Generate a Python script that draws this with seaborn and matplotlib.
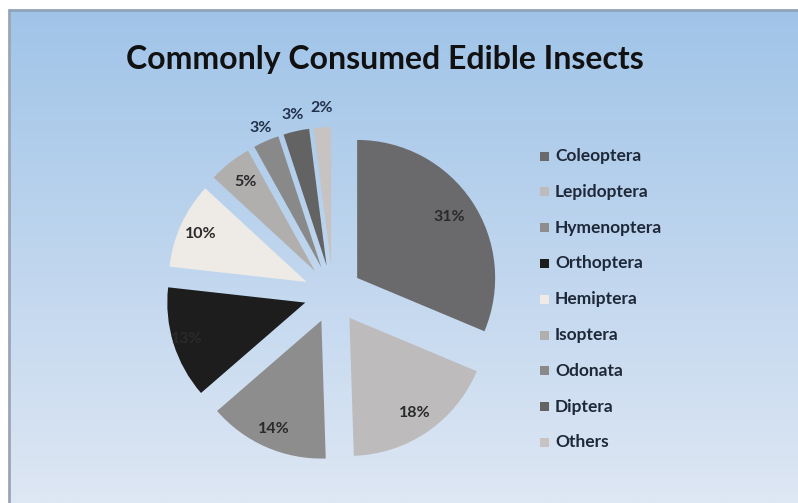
import numpy as np
import matplotlib
matplotlib.use("Agg")
import matplotlib.pyplot as plt
from matplotlib.patches import Rectangle
import seaborn as sns

# Share of commonly consumed edible insects by order (percent)
orders = ["Coleoptera", "Lepidoptera", "Hymenoptera", "Orthoptera", "Hemiptera",
          "Isoptera", "Odonata", "Diptera", "Others"]
shares = [31, 18, 14, 13, 10, 5, 3, 3, 2]
slice_colors = ["#6a6a6c", "#bdbbbb", "#8e8d8e", "#1d1d1e", "#eeebe7",
                "#b1aeae", "#898989", "#636364", "#c6c3c2"]

sns.set_theme(style="white")
plt.rcParams["font.family"] = ["Lato", "DejaVu Sans"]

W, H = 798, 503
fig = plt.figure(figsize=(W / 100, H / 100), dpi=100)
fig.patch.set_facecolor("white")
ax = fig.add_axes([0, 0, 1, 1])

# panel: vertical blue gradient with a thin grey rim on the top and left
top_rgb = np.array([160, 196, 232]) / 255
bot_rgb = np.array([222, 231, 244]) / 255
t = np.linspace(0, 1, 256)[:, None, None]
grad = top_rgb * (1 - t) + bot_rgb * t
grad = np.repeat(grad, 2, axis=1)
ax.imshow(grad, extent=(9, W, 0, H - 10), aspect="auto", zorder=0, interpolation="bilinear")
ax.plot([9, 9], [0, H - 10], color="#9aa6b4", lw=2, zorder=1)
ax.plot([9, W], [H - 10, H - 10], color="#8fa3bb", lw=2, zorder=1)

# exploded pie, clockwise from 12 o'clock
palette = sns.color_palette(slice_colors)
radius = 138
wedges, _ = ax.pie(shares, colors=palette, startangle=90, counterclock=False,
                   radius=radius, center=(333, 209), explode=[29] * len(shares),
                   wedgeprops=dict(linewidth=0), frame=True)

# percentage labels, placed along each wedge's bisector
label_dist = [0.8, 0.84, 0.86, 0.9, 0.84, 0.82, 1.1, 1.12, 1.14]
for w, val, d in zip(wedges, shares, label_dist):
    cx, cy = w.center
    th = np.deg2rad((w.theta1 + w.theta2) / 2)
    outside = d > 1
    ax.text(cx + d * w.r * np.cos(th), cy + d * w.r * np.sin(th), f"{val}%",
            ha="center", va="center", fontsize=11.5, fontweight="bold",
            color="#22314a" if outside else "#2a2a2a", zorder=5)

# title
ax.text(385, H - 59, "Commonly Consumed Edible Insects", ha="center", va="center",
        fontsize=23, fontweight="bold", color="#111111", zorder=5)

# legend
ly0, lstep = H - 156, 35.8
for i, (name, col) in enumerate(zip(orders, palette)):
    y = ly0 - i * lstep
    ax.add_patch(Rectangle((540, y - 4.5), 9, 9, facecolor=col, edgecolor="none", zorder=5))
    ax.text(555, y, name, ha="left", va="center", fontsize=12.5, fontweight="bold",
            color="#1e2838", zorder=5)

ax.set_xlim(0, W)
ax.set_ylim(0, H)
ax.set_aspect("auto")
ax.axis("off")

fig.savefig("out.png", dpi=100)
